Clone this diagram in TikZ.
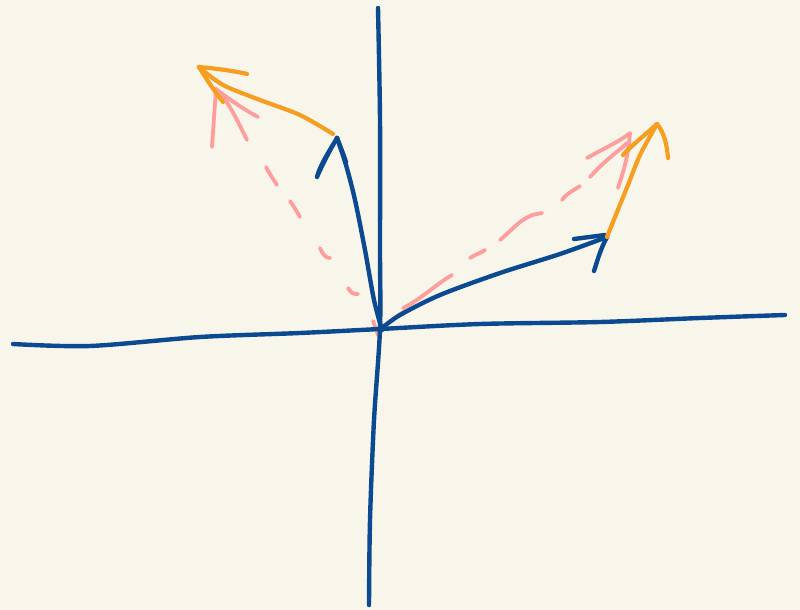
\documentclass[tikz,border=0pt]{standalone}
\begin{document}
\begin{tikzpicture}[x=1pt,y=-1pt,
  line cap=round,line join=round,
  blueink/.style={draw=inkblue,line width=4.4pt},
  orangeink/.style={draw=inkorange,line width=4.2pt},
  pinkink/.style={draw=inkpink,line width=3.8pt}]
\definecolor{paper}{HTML}{F8F6EB}
\definecolor{inkblue}{HTML}{0B4A90}
\definecolor{inkorange}{HTML}{F59E1F}
\definecolor{inkpink}{HTML}{FF9D9D}
\fill[paper] (0,0) rectangle (800,610);
\useasboundingbox (0,0) rectangle (800,610);
% named points
\coordinate (O) at (380,329);
\coordinate (ltip) at (337,138);
\coordinate (rtip) at (607,237);
\coordinate (lotip) at (199,67);
\coordinate (rotip) at (657,124);
\coordinate (lptip) at (216,89);
\coordinate (rptip) at (630,133);
% pink dashed vector (left)
\draw[pinkink] (378,335) -- (373,321);
\draw[pinkink] (348,288) .. controls (351,294) and (355,294) .. (358,294);
\draw[pinkink] (320,248) .. controls (323,255) and (326,258) .. (330,258);
\draw[pinkink] (290,201) .. controls (295,208) and (297,212) .. (300,217);
\draw[pinkink] (266,167) .. controls (270,175) and (274,180) .. (277,185);
\draw[pinkink] (247,140) .. controls (238,122) and (228,100) .. (lptip);
\draw[pinkink] (lptip) -- (212,147);
\draw[pinkink] (lptip) .. controls (230,100) and (245,110) .. (258,117);
% pink dashed vector (right)
\draw[pinkink] (392,321) .. controls (396,316) and (401,314) .. (405,311);
\draw[pinkink] (403,308) .. controls (420,300) and (435,285) .. (452,275);
\draw[pinkink] (470,258) .. controls (476,254) and (481,253) .. (485,250);
\draw[pinkink] (500,240) .. controls (512,230) and (518,222) .. (528,217) .. controls (533,214) and (538,214) .. (542,213);
\draw[pinkink] (562,200) .. controls (566,194) and (574,190) .. (580,186);
\draw[pinkink] (590,177) .. controls (605,160) and (620,150) .. (627,143);
\draw[pinkink] (587,158) .. controls (605,148) and (622,140) .. (rptip);
\draw[pinkink] (rptip) .. controls (628,160) and (622,175) .. (618,188);
% axes
\draw[blueink] plot[smooth] coordinates {(13,344) (90,346) (200,337) (300,333) (O) (480,324) (600,322) (700,318) (785,315)};
\draw[blueink] plot[smooth] coordinates {(378,8) (380,120) (380,250) (O) (374,420) (370,520) (369,605)};
% blue vectors
\draw[blueink] plot[smooth] coordinates {(382,330) (374,300) (365,250) (355,200) (346,165) (ltip)};
\draw[blueink] (ltip) .. controls (330,150) and (320,165) .. (317,177) .. controls (322,165) and (330,150) .. (ltip);
\draw[blueink] (ltip) .. controls (341,148) and (344,156) .. (346,162);
\draw[blueink] plot[smooth] coordinates {(382,328) (400,315) (440,295) (500,273) (560,254) (rtip)};
\draw[blueink] (574,239) -- (605,235);
\draw[blueink] (rtip) .. controls (600,250) and (597,262) .. (594,271);
% orange vectors
\draw[orangeink] plot[smooth] coordinates {(333,134) (300,115) (260,100) (225,86) (206,73) (lotip)};
\draw[orangeink] (lotip) .. controls (210,68) and (230,70) .. (247,74);
\draw[orangeink] (lotip) .. controls (207,80) and (215,92) .. (223,102);
\draw[orangeink] plot[smooth] coordinates {(rtip) (617,212) (628,185) (640,155) (rotip)};
\draw[orangeink] (rotip) .. controls (645,135) and (632,145) .. (623,155);
\draw[orangeink] (rotip) .. controls (664,132) and (667,145) .. (668,158);
\end{tikzpicture}
\end{document}
